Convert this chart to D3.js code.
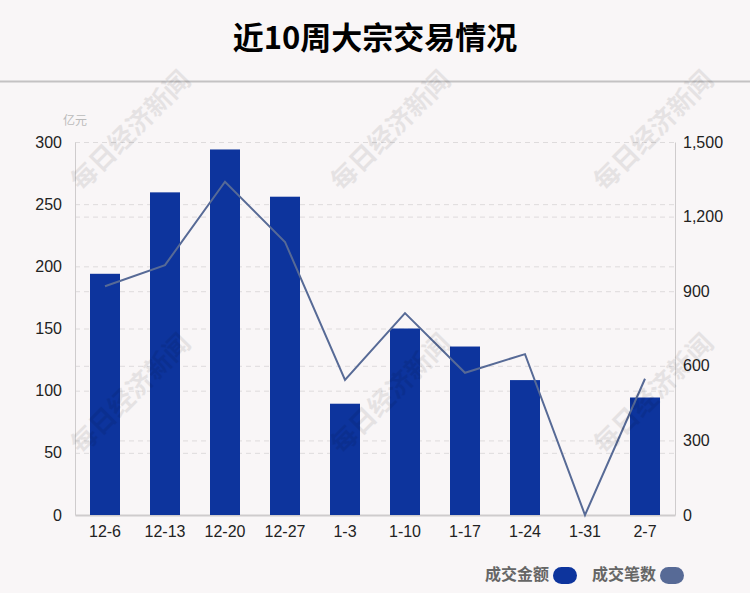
<!DOCTYPE html>
<html><head><meta charset="utf-8">
<script src="https://cdn.jsdelivr.net/npm/d3@7"></script>
<style>
html,body{margin:0;padding:0;background:#f9f6f7;}
svg{display:block;font-family:"Noto Sans CJK SC","Liberation Sans",Arial,sans-serif;}
</style></head>
<body>
<svg id="c" width="750" height="593"></svg>
<script>
const categories = ["12-6","12-13","12-20","12-27","1-3","1-10","1-17","1-24","1-31","2-7"];
const amountValues = [194, 259.5, 294, 256, 89.5, 150, 135.5, 108.5, 0, 94.5]; // 成交金额 (亿元)
const countValues = [920, 1005, 1340, 1098, 543, 812, 572, 647, 0, 548];   // 成交笔数
const leftTicks = [0, 50, 100, 150, 200, 250, 300];
const rightTicks = [0, 300, 600, 900, 1200, 1500];
const seriesNames = ["成交金额", "成交笔数"];
const colors = ["#0d349d", "#576a96"];

const svg = d3.select("#c");
const W = 750, H = 593;
const m = {left:75, right:75, top:142, bottom:78};
const x = d3.scaleBand().domain(categories).range([m.left, W - m.right]).paddingInner(0.5).paddingOuter(0.25);
const yL = d3.scaleLinear().domain([0, 300]).range([H - m.bottom, m.top]);
const yR = d3.scaleLinear().domain([0, 1500]).range([H - m.bottom, m.top]);

svg.append("rect").attr("width", W).attr("height", H).attr("fill", "#f9f6f7");

// title
svg.append("text").attr("x", W/2).attr("y", 49).attr("text-anchor", "middle")
  .attr("font-size", 31).attr("font-weight", "bold").attr("fill", "#000").text("近10周大宗交易情况");
svg.append("line").attr("x1", 0).attr("x2", W).attr("y1", 81.5).attr("y2", 81.5)
  .attr("stroke", "#c4c2c3").attr("stroke-width", 2);

// gridlines
const gridVals = new Set();
leftTicks.forEach(t => gridVals.add(yL(t)));
rightTicks.forEach(t => gridVals.add(yR(t)));
svg.append("g").selectAll("line").data([...gridVals].filter(v => v < yL(0) - 1)).join("line")
  .attr("x1", m.left).attr("x2", W - m.right)
  .attr("y1", d => d + 0.5).attr("y2", d => d + 0.5)
  .attr("stroke", "#dedbdc").attr("stroke-dasharray", "5,4");

// axes
const gL = svg.append("g").attr("transform", `translate(${m.left},0)`)
  .call(d3.axisLeft(yL).tickValues(leftTicks).tickSize(0).tickPadding(13));
const gR = svg.append("g").attr("transform", `translate(${W - m.right},0)`)
  .call(d3.axisRight(yR).tickValues(rightTicks).tickSize(0).tickPadding(8).tickFormat(d3.format(",")));
const gX = svg.append("g").attr("transform", `translate(0,${H - m.bottom})`)
  .call(d3.axisBottom(x).tickSize(0).tickPadding(8));
[gL, gR, gX].forEach(g => {
  g.select(".domain").attr("stroke", "#cfcccd");
  g.selectAll("text").attr("font-size", 16).attr("fill", "#222")
    .attr("font-family", "'Liberation Sans',Arial,sans-serif");
});
gX.select(".domain").attr("stroke-width", 2);
gX.selectAll("text").attr("dy", "0.85em");

svg.append("text").attr("x", 75).attr("y", 125).attr("text-anchor", "middle")
  .attr("font-size", 12).attr("fill", "#bbb").text("亿元");

// bars
svg.append("g").selectAll("rect").data(categories).join("rect")
  .attr("x", d => x(d)).attr("width", x.bandwidth())
  .attr("y", (d, i) => yL(amountValues[i]))
  .attr("height", (d, i) => yL(0) - yL(amountValues[i]))
  .attr("fill", colors[0]);

// line
const line = d3.line().x((d, i) => x(categories[i]) + x.bandwidth()/2).y(d => yR(d));
svg.append("path").datum(countValues).attr("d", line)
  .attr("fill", "none").attr("stroke", colors[1]).attr("stroke-width", 2);

// watermarks
const wm = [[132,132],[392,132],[655,132],[132,395],[392,395],[655,395]];
svg.append("g").selectAll("text").data(wm).join("text")
  .attr("transform", d => `translate(${d[0]},${d[1]}) rotate(-45)`)
  .attr("text-anchor", "middle").attr("dominant-baseline", "middle")
  .attr("font-size", 26).attr("font-weight", "bold").attr("fill", "#000").attr("opacity", 0.075)
  .text("每日经济新闻");

// legend
const leg = svg.append("g");
const lx = [485, 592];
seriesNames.forEach((n, i) => {
  leg.append("text").attr("x", lx[i]).attr("y", 580).attr("font-size", 16).attr("font-weight", "bold")
    .attr("fill", "#666").text(n);
  leg.append("rect").attr("x", lx[i] + 68).attr("y", 567).attr("width", 24).attr("height", 17)
    .attr("rx", 8.5).attr("fill", colors[i]);
});
</script>
</body></html>
